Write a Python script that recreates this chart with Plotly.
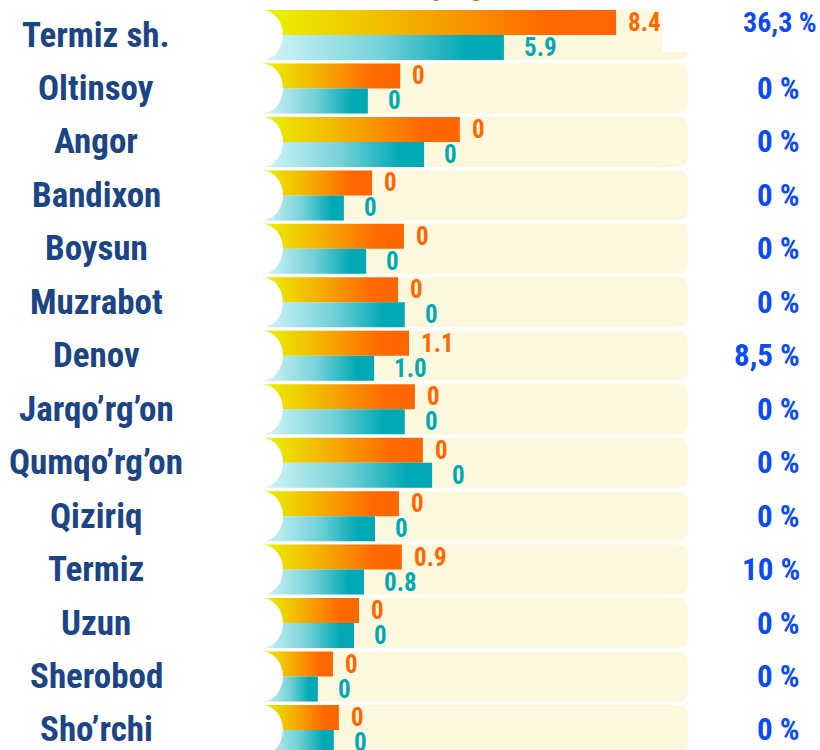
import plotly.graph_objects as go

categories = ["Termiz sh.", "Oltinsoy", "Angor", "Bandixon", "Boysun", "Muzrabot", "Denov",
              "Jarqo\u2019rg\u2019on", "Qumqo\u2019rg\u2019on", "Qiziriq", "Termiz", "Uzun",
              "Sherobod", "Sho\u2019rchi"]
orange_len = [8.43, 3.29, 4.71, 2.62, 3.38, 3.24, 3.50, 3.64, 3.83, 3.26, 3.33, 2.31, 1.69, 1.83]
teal_len = [5.76, 2.52, 3.86, 1.95, 2.48, 3.40, 2.67, 3.40, 4.05, 2.69, 2.43, 2.19, 1.33, 1.71]
orange_labels = ["8.4", "0", "0", "0", "0", "0", "1.1", "0", "0", "0", "0.9", "0", "0", "0"]
teal_labels = ["5.9", "0", "0", "0", "0", "0", "1.0", "0", "0", "0", "0.8", "0", "0", "0"]
share_labels = ["36,3 %", "0 %", "0 %", "0 %", "0 %", "0 %", "8,5 %", "0 %", "0 %", "0 %",
                "10 %", "0 %", "0 %", "0 %"]
panel_max = 10.14
title_text = "Amal, mlrd. prognoz"

FONT = "Roboto Condensed, Liberation Sans Narrow, DejaVu Sans Condensed, Roboto, sans-serif"
ORANGE = "#ff6600"
TEAL = "#00a9b5"
NAVY = "#1b4585"
BLUE = "#0a4bf5"
CREAM = "#fcf8dd"

orange_scale = [[0, "#e9f500"], [0.35, "#f2bb00"], [0.8, "#ff6a00"], [1, "#ff6600"]]
teal_scale = [[0, "#d6f6f9"], [0.5, "#72d1d7"], [0.85, "#00a9b5"], [1, "#00a9b5"]]

H = 0.4677  # half row height in category units
fig = go.Figure()
shapes = []
annotations = []

for i, cat in enumerate(categories):
    y0, y1 = i - H, i + H
    rx, ry = 0.238, 0.187
    x0, x1 = -0.1, panel_max
    shapes.append(dict(
        type="path", layer="below", line=dict(width=0), fillcolor=CREAM,
        path=(f"M {x0},{y0} L {x1-rx},{y0} Q {x1},{y0} {x1},{y0+ry} "
              f"L {x1},{y1-ry} Q {x1},{y1} {x1-rx},{y1} L {x0},{y1} Z")))

# white patch at the top right of the first panel
shapes.append(dict(type="rect", xref="x", yref="y", layer="below",
                   x0=panel_max - 0.6, x1=panel_max + 0.5, y0=-0.7, y1=0.32,
                   fillcolor="white", line=dict(width=0)))

for i, cat in enumerate(categories):
    y0, y1 = i - H, i + H
    o = orange_len[i]
    t = teal_len[i]
    fig.add_trace(go.Scatter(
        x=[0, o, o, 0, 0], y=[y0, y0, i, i, y0], mode="none", fill="toself",
        fillgradient=dict(type="horizontal", colorscale=orange_scale),
        hoverinfo="skip", showlegend=False))
    fig.add_trace(go.Scatter(
        x=[0, t, t, 0, 0], y=[i, i, y1, y1, i], mode="none", fill="toself",
        fillgradient=dict(type="horizontal", colorscale=teal_scale),
        hoverinfo="skip", showlegend=False))
    shapes.append(dict(type="circle", layer="above", xref="x", yref="y",
                       x0=-0.5, x1=0.5, y0=y0, y1=y1,
                       fillcolor="white", line=dict(width=0)))
    annotations.append(dict(x=o, y=i - H / 2, xref="x", yref="y", text=orange_labels[i],
                            xanchor="left", yanchor="middle", xshift=10, showarrow=False,
                            font=dict(family=FONT, size=25, color=ORANGE, weight="bold")))
    annotations.append(dict(x=t, y=i + H / 2, xref="x", yref="y", text=teal_labels[i],
                            xanchor="left", yanchor="middle", xshift=18, showarrow=False,
                            font=dict(family=FONT, size=25, color=TEAL, weight="bold")))
    annotations.append(dict(x=96 / 820, y=i, xref="paper", yref="y", text=cat,
                            xanchor="center", yanchor="middle", showarrow=False,
                            font=dict(family=FONT, size=35, color=NAVY, weight="bold")))
    annotations.append(dict(x=802 / 820, y=i, xref="paper", yref="y", text=share_labels[i],
                            xanchor="right", yanchor="middle", showarrow=False,
                            xshift=17 if i == 0 else 0, yshift=13 if i == 0 else 0,
                            font=dict(family=FONT, size=28 if i == 0 else 31, color=BLUE,
                                      weight="bold")))

annotations.append(dict(x=0.5, y=1.0, xref="paper", yref="paper", text=title_text,
                        xanchor="center", yanchor="bottom", yshift=-4, showarrow=False,
                        font=dict(family=FONT, size=28, color=ORANGE, weight="bold")))

fig.update_layout(
    width=820, height=750, margin=dict(l=0, r=0, t=0, b=0),
    paper_bgcolor="white", plot_bgcolor="white",
    xaxis=dict(range=[-262 / 42, 558 / 42], visible=False, fixedrange=True),
    yaxis=dict(range=[(750 - 35) / 53.46, -35 / 53.46], visible=False, fixedrange=True),
    shapes=shapes, annotations=annotations, showlegend=False,
)
fig.write_html(
    "out.html",
    config={"displayModeBar": False},
    post_script="document.body.style.margin='0';document.body.style.overflow='hidden';",
)
